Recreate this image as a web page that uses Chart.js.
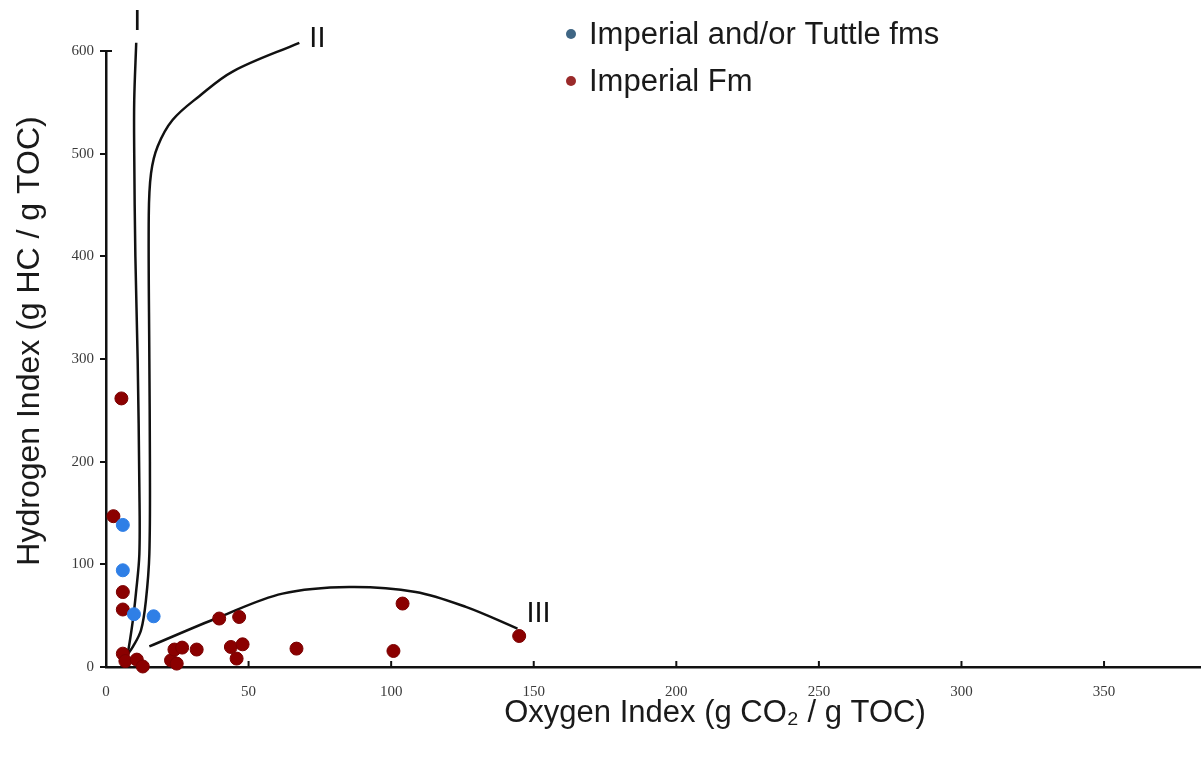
<!DOCTYPE html>
<html>
<head>
<meta charset="utf-8">
<script src="https://cdn.jsdelivr.net/npm/chart.js@4.4.1/dist/chart.umd.min.js"></script>
<style>
  html, body { margin: 0; padding: 0; background: #fff; }
  #wrap { width: 1201px; height: 757px; position: relative; }
</style>
</head>
<body>
<div id="wrap"><canvas id="vk"></canvas></div>
<script>
// ticks
const xTicks = [0, 50, 100, 150, 200, 250, 300, 350];
const yTicks = [0, 100, 200, 300, 400, 500, 600];

// samples: Oxygen Index (x) / Hydrogen Index (y)
const tuttleOI = [5.9, 5.9, 9.8, 16.7];
const tuttleHI = [138.4, 94.2, 51.4, 49.4];

const imperialOI = [5.4, 2.6, 5.9, 5.9, 5.9, 6.8, 10.8, 12.9, 22.8, 24.8, 24.0, 26.7, 31.8, 39.7, 46.7, 43.8, 47.9, 45.8, 66.8, 104.0, 100.8, 144.9];
const imperialHI = [261.6, 146.9, 73.0, 56.0, 13.0, 5.8, 7.2, 0.5, 6.5, 3.3, 17.0, 18.9, 17.0, 47.2, 48.7, 19.5, 22.1, 8.2, 17.9, 61.8, 15.6, 30.2];

// kerogen type curves
const curveIOI = [7.0, 7.6, 9.4, 10.5, 11.7, 11.7, 11.1, 10.3, 9.9, 9.9, 10.6];
const curveIHI = [9.7, 13, 45, 72, 110, 175, 300, 400, 500, 552, 608];
const curveIIOI = [7.0, 9.5, 12.3, 14.0, 15.2, 15.4, 15.2, 15.0, 15.8, 18.1, 23.4, 32.7, 44.4, 67.8];
const curveIIHI = [10, 20, 36, 65, 110, 200, 300, 440, 481, 507, 533, 556, 580, 608];
const curveIIIOI = [15.2, 39.8, 61.9, 85.3, 108.6, 126.2, 144.3];
const curveIIIHI = [20, 48.7, 71.5, 78, 73.1, 58.5, 37.4];
const curveNames = ["I", "II", "III"];

const toPts = (xs, ys) => xs.map((x, i) => ({ x: x, y: ys[i] }));

function curveSet(name, xs, ys) {
  return {
    label: name,
    data: toPts(xs, ys),
    showLine: true,
    borderColor: "#111",
    borderWidth: 2.5,
    pointRadius: 0,
    tension: 0.35,
    fill: false,
    clip: false
  };
}

const overlay = {
  id: "overlay",
  afterDraw(chart) {
    const ctx = chart.ctx;
    const xs = chart.scales.x, ys = chart.scales.y;
    ctx.save();

    // inward x ticks (and the little cap at the top of the y axis)
    ctx.strokeStyle = "#111";
    ctx.lineWidth = 2;
    xTicks.forEach(t => {
      if (t === 0) return;
      const px = xs.getPixelForValue(t);
      ctx.beginPath();
      ctx.moveTo(px, ys.bottom);
      ctx.lineTo(px, ys.bottom - 6);
      ctx.stroke();
    });
    const topY = ys.getPixelForValue(yTicks[yTicks.length - 1]);
    ctx.beginPath();
    ctx.moveTo(xs.left, topY);
    ctx.lineTo(xs.left + 6, topY);
    ctx.stroke();

    // curve labels next to the curve ends
    ctx.fillStyle = "#111";
    ctx.font = "29px 'Liberation Sans', Arial, sans-serif";
    ctx.textBaseline = "middle";
    const ends = [
      [curveIOI, curveIHI, 1, -21, "center"],
      [curveIIOI, curveIIHI, 10, -4, "left"],
      [curveIIIOI, curveIIIHI, 9, -15, "left"]
    ];
    ends.forEach((e, i) => {
      const n = e[0].length - 1;
      const px = xs.getPixelForValue(e[0][n]) + e[2];
      const py = ys.getPixelForValue(e[1][n]) + e[3];
      ctx.textAlign = e[4];
      ctx.fillText(curveNames[i], px, py);
    });

    // legend
    ctx.font = "31px 'Liberation Sans', Arial, sans-serif";
    ctx.textAlign = "left";
    const leg = [["Imperial and/or Tuttle fms", "#3f6684"], ["Imperial Fm", "#9a2a2a"]];
    leg.forEach((l, i) => {
      const cy = 34 + i * 47;
      ctx.fillStyle = l[1];
      ctx.beginPath();
      ctx.arc(571, cy, 5, 0, Math.PI * 2);
      ctx.fill();
      ctx.fillStyle = "#1a1a1a";
      ctx.fillText(l[0], 589, cy + 1);
    });

    // axis titles
    ctx.fillStyle = "#1a1a1a";
    ctx.font = "31px 'Liberation Sans', Arial, sans-serif";
    ctx.textAlign = "center";
    ctx.fillText("Oxygen Index (g CO\u2082 / g TOC)", 715, 713);
    ctx.font = "32px 'Liberation Sans', Arial, sans-serif";
    ctx.translate(30, 341);
    ctx.rotate(-Math.PI / 2);
    ctx.fillText("Hydrogen Index (g HC / g TOC)", 0, 0);
    ctx.restore();
  }
};

const tickFont = { family: "'Liberation Serif', 'Times New Roman', serif", size: 15 };

new Chart(document.getElementById("vk"), {
  type: "scatter",
  data: {
    datasets: [
      {
        label: "Imperial and/or Tuttle fms",
        data: toPts(tuttleOI, tuttleHI),
        backgroundColor: "#2f7fe6",
        borderColor: "#2f7fe6",
        pointRadius: 6.5,
        clip: false
      },
      {
        label: "Imperial Fm",
        data: toPts(imperialOI, imperialHI),
        backgroundColor: "#8b0000",
        borderColor: "#7a0000",
        pointRadius: 6.5,
        clip: false
      },
      curveSet("I", curveIOI, curveIHI),
      curveSet("II", curveIIOI, curveIIHI),
      curveSet("III", curveIIIOI, curveIIIHI)
    ]
  },
  plugins: [overlay],
  options: {
    responsive: true,
    maintainAspectRatio: false,
    animation: false,
    layout: { autoPadding: false, padding: { top: 51, right: 0, bottom: 0, left: 0 } },
    plugins: { legend: { display: false }, tooltip: { enabled: false } },
    scales: {
      x: {
        type: "linear",
        min: 0,
        max: 384,
        afterFit(scale) { scale.height = 90; },
        afterBuildTicks(scale) { scale.ticks = xTicks.map(v => ({ value: v })); },
        grid: { display: true, drawOnChartArea: false, drawTicks: false },
        border: { display: true, color: "#111", width: 2.5 },
        ticks: { padding: 16, color: "#3a3a3a", font: tickFont }
      },
      y: {
        type: "linear",
        min: 0,
        max: 600,
        afterFit(scale) { scale.width = 106; },
        afterBuildTicks(scale) { scale.ticks = yTicks.map(v => ({ value: v })); },
        grid: { display: true, drawOnChartArea: false, drawTicks: true, tickLength: 6, color: "#111", lineWidth: 2 },
        border: { display: true, color: "#111", width: 2.5 },
        ticks: { padding: 6, color: "#3a3a3a", font: tickFont }
      }
    }
  }
});
</script>
</body>
</html>
